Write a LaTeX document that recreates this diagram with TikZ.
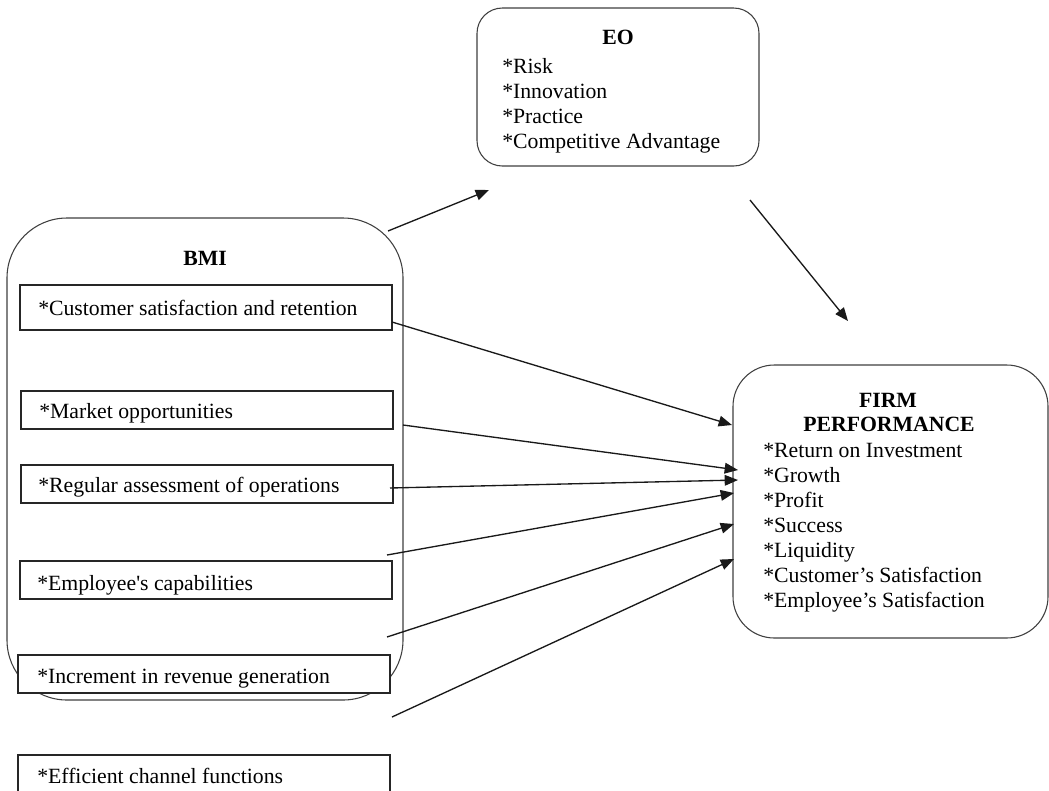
\documentclass[tikz,border=0pt]{standalone}
\usepackage{fontspec}
\setmainfont{Liberation Serif}
\usetikzlibrary{arrows.meta}
\begin{document}
\begin{tikzpicture}[x=0.75pt,y=-0.75pt,
  txt/.style={font=\fontsize{16.3pt}{18.75pt}\selectfont, text=black, inner sep=0pt},
  ttl/.style={txt, font=\fontsize{16.3pt}{18.75pt}\selectfont\bfseries},
  rbox/.style={draw=black!75, line width=0.8pt, inner sep=0pt},
  ibox/.style={draw=black!85, line width=0.8pt, fill=white, inner sep=0pt, minimum width=279pt},
  arr/.style={draw=black!90, line width=1pt, -{Triangle[length=10pt,width=8pt]}}]
\useasboundingbox (0,0) rectangle (1049,790);
\clip (0,0) rectangle (1049,790);
\fill[white] (0,0) rectangle (1049,790);
% EO box
\node[rbox, rounded corners=19pt, minimum width=211.5pt, minimum height=118.5pt] (eo) at (618,87) {};
\node[ttl, anchor=base] (eot) at (618,44) {EO};
\node[txt, anchor=base west] (eo1) at (502,73) {*Risk};
\node[txt, anchor=base west] (eo2) at (502,98) {*Innovation};
\node[txt, anchor=base west] (eo3) at (502,123) {*Practice};
\node[txt, anchor=base west] (eo4) at (502,148) {*Competitive Advantage};
% BMI box
\node[rbox, rounded corners=45pt, minimum width=297pt, minimum height=361.5pt] (bmi) at (205,459) {};
\node[ttl, anchor=base] (bmit) at (205,265) {BMI};
\node[ibox, minimum height=33.75pt] (c1) at (206,307.5) {};
\node[ibox, minimum height=28.5pt] (c2) at (207,410) {};
\node[ibox, minimum height=28.5pt] (c3) at (207,484) {};
\node[ibox, minimum height=28.5pt] (c4) at (206,580) {};
\node[ibox, minimum height=28.5pt] (c5) at (204,674) {};
\node[ibox, minimum height=37.5pt] (c6) at (204,780) {};
\node[txt, anchor=base west] (c1t) at (38,315) {*Customer satisfaction and retention};
\node[txt, anchor=base west] (c2t) at (39,418) {*Market opportunities};
\node[txt, anchor=base west] (c3t) at (38,492) {*Regular assessment of operations};
\node[txt, anchor=base west] (c4t) at (37,590) {*Employee\textquotesingle s capabilities};
\node[txt, anchor=base west] (c5t) at (37,683) {*Increment in revenue generation};
\node[txt, anchor=base west] (c6t) at (37,783) {*Efficient channel functions};
% FIRM box
\node[rbox, rounded corners=31pt, minimum width=236.25pt, minimum height=204.75pt] (fp) at (890.5,501.5) {};
\node[ttl, anchor=base] (fpt1) at (888,407) {FIRM};
\node[ttl, anchor=base] (fpt2) at (889,431) {PERFORMANCE};
\node[txt, anchor=base west] (f1) at (763,457) {*Return on Investment};
\node[txt, anchor=base west] (f2) at (763,482) {*Growth};
\node[txt, anchor=base west] (f3) at (763,507) {*Profit};
\node[txt, anchor=base west] (f4) at (763,532) {*Success};
\node[txt, anchor=base west] (f5) at (763,557) {*Liquidity};
\node[txt, anchor=base west] (f6) at (763,582) {*Customer’s Satisfaction};
\node[txt, anchor=base west] (f7) at (763,607) {*Employee’s Satisfaction};
% connector ends
\coordinate (s0) at (388,231); \coordinate (t0) at (489,190);
\coordinate (s7) at (750,200); \coordinate (t7) at (848,321);
\coordinate (s1) at (392,322); \coordinate (t1) at (732,425);
\coordinate (s2) at (403,425); \coordinate (t2) at (738,470);
\coordinate (s3) at (390,488); \coordinate (t3) at (738,480);
\coordinate (s4) at (387,555); \coordinate (t4) at (734,493);
\coordinate (s5) at (387,637); \coordinate (t5) at (734,524);
\coordinate (s6) at (392,717); \coordinate (t6) at (734,559);
\foreach \i in {0,...,7} {\draw[arr] (s\i) -- (t\i);}
\end{tikzpicture}
\end{document}
